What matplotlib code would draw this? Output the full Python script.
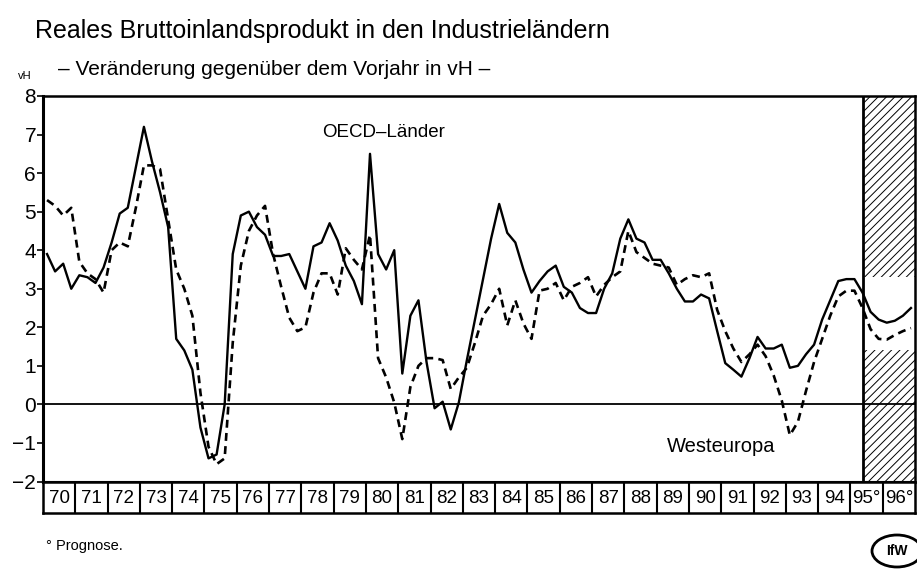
import matplotlib
matplotlib.use("Agg")
import matplotlib.pyplot as plt
import numpy as np
from matplotlib.patches import Rectangle, Ellipse

# ── Data: quarterly year-on-year change in %, 1970Q1 .. 1996Q4 ──────────────
years = list(range(1970, 1997))
forecast_years = [1995, 1996]

oecd = [
    3.9, 3.45, 3.65, 3.0,     # 70
    3.35, 3.3, 3.15, 3.55,    # 71
    4.2, 4.95, 5.1, 6.15,     # 72
    7.2, 6.3, 5.5, 4.6,       # 73
    1.7, 1.4, 0.9, -0.6,      # 74
    -1.4, -1.3, 0.0, 3.9,     # 75
    4.9, 5.0, 4.6, 4.4,       # 76
    3.85, 3.85, 3.9, 3.45,    # 77
    3.0, 4.1, 4.2, 4.7,       # 78
    4.25, 3.6, 3.2, 2.6,      # 79
    6.5, 3.9, 3.5, 4.0,       # 80
    0.8, 2.3, 2.7, 1.1,       # 81
    -0.1, 0.07, -0.65, 0.05,  # 82
    1.15, 2.2, 3.25, 4.3,     # 83
    5.2, 4.45, 4.2, 3.5,      # 84
    2.9, 3.2, 3.45, 3.6,      # 85
    3.05, 2.9, 2.5, 2.37,     # 86
    2.37, 3.0, 3.4, 4.3,      # 87
    4.8, 4.3, 4.2, 3.75,      # 88
    3.75, 3.4, 3.0, 2.67,     # 89
    2.67, 2.85, 2.75, 1.9,    # 90
    1.07, 0.9, 0.72, 1.2,     # 91
    1.75, 1.45, 1.45, 1.55,   # 92
    0.95, 1.0, 1.3, 1.55,     # 93
    2.2, 2.7, 3.2, 3.25,      # 94
    3.25, 2.9, 2.4, 2.2,      # 95
    2.12, 2.17, 2.3, 2.5,     # 96
]

westeuropa = [
    5.3, 5.15, 4.9, 5.1,      # 70
    3.7, 3.4, 3.25, 2.9,      # 71
    4.0, 4.2, 4.1, 5.1,       # 72
    6.2, 6.2, 6.1, 4.8,       # 73
    3.5, 3.0, 2.3, 0.3,       # 74
    -1.1, -1.55, -1.4, 1.6,   # 75
    3.6, 4.5, 4.9, 5.15,      # 76
    3.9, 3.05, 2.25, 1.9,     # 77
    2.0, 2.9, 3.4, 3.4,       # 78
    2.85, 4.05, 3.75, 3.5,    # 79
    4.4, 1.2, 0.7, 0.05,      # 80
    -0.9, 0.45, 1.0, 1.2,     # 81
    1.2, 1.15, 0.4, 0.7,      # 82
    0.95, 1.6, 2.3, 2.6,      # 83
    3.0, 2.05, 2.7, 2.1,      # 84
    1.7, 2.95, 3.0, 3.15,     # 85
    2.7, 3.05, 3.15, 3.3,     # 86
    2.8, 3.1, 3.3, 3.45,      # 87
    4.5, 3.95, 3.8, 3.65,     # 88
    3.6, 3.55, 3.1, 3.25,     # 89
    3.35, 3.3, 3.4, 2.45,     # 90
    1.9, 1.45, 1.1, 1.3,      # 91
    1.55, 1.25, 0.75, 0.1,    # 92
    -0.8, -0.45, 0.35, 1.1,   # 93
    1.7, 2.3, 2.8, 2.95,      # 94
    2.95, 2.5, 1.95, 1.7,     # 95
    1.68, 1.8, 1.9, 1.98,     # 96
]

# forecast shading: hatched except a white band where the lines run
forecast_start = 1995.4
gap_low, gap_high = 1.4, 3.3

# quarter centres
x = np.array([y + (q + 0.5) / 4 for y in years for q in range(4)])

plt.rcParams.update({
    "font.family": ["Liberation Sans", "DejaVu Sans"],
    "hatch.linewidth": 0.7,
})

W, H = 917, 570
fig = plt.figure(figsize=(W / 100, H / 100), dpi=100)

x0, x1 = 43, 915
ytop, ybot, ybox = 96, 481.5, 513
ax = fig.add_axes([x0 / W, 1 - ybot / H, (x1 - x0) / W, (ybot - ytop) / H])
axb = fig.add_axes([x0 / W, 1 - ybox / H, (x1 - x0) / W, (ybox - ybot) / H])

xmin, xmax = years[0], years[-1] + 1
ax.set_xlim(xmin, xmax)
ax.set_ylim(-2, 8)

# ── Forecast hatch ───────────────────────────────────────────────────────────
for lo, hi in [(-2, gap_low), (gap_high, 8)]:
    ax.add_patch(Rectangle((forecast_start, lo), xmax - forecast_start, hi - lo,
                           facecolor="white", edgecolor="black", hatch="////",
                           linewidth=0, zorder=1))
ax.axvline(forecast_start, color="black", linewidth=2.0, zorder=4)

# ── Lines ────────────────────────────────────────────────────────────────────
ax.axhline(0, color="black", linewidth=1.3, zorder=2)
ax.plot(x, oecd, color="black", linewidth=1.7, zorder=3)
ax.plot(x, westeuropa, color="black", linewidth=1.9, linestyle=(0, (3, 2)), zorder=3)

ax.text(1980.55, 7.05, "OECD–Länder", fontsize=13.5, ha="center", va="center")
ax.text(1991.0, -1.1, "Westeuropa", fontsize=14.5, ha="center", va="center")

# ── Axes styling ─────────────────────────────────────────────────────────────
ax.set_xticks([])
ax.set_yticks(range(-2, 9))
ax.tick_params(axis="y", direction="out", length=4, width=1.2, labelsize=15, pad=1)
for side, lw in [("left", 2.2), ("top", 1.8), ("right", 1.8), ("bottom", 1.5)]:
    ax.spines[side].set_linewidth(lw)

# ── Year box row ─────────────────────────────────────────────────────────────
axb.set_xlim(xmin, xmax)
axb.set_ylim(0, 1)
axb.set_xticks([])
axb.set_yticks([])
for side in axb.spines:
    axb.spines[side].set_linewidth(1.8)
for yr in years[1:]:
    axb.axvline(yr, color="black", linewidth=1.5)
for yr in years:
    lab = f"{yr % 100:02d}" + ("°" if yr in forecast_years else "")
    axb.text(yr + 0.5, 0.47, lab, fontsize=13.5, ha="center", va="center")

# ── Titles and notes ─────────────────────────────────────────────────────────
fig.text(35 / W, 1 - 38 / H, "Reales Bruttoinlandsprodukt in den Industrieländern",
         fontsize=18, va="baseline", ha="left")
fig.text(58 / W, 1 - 75 / H, "– Veränderung gegenüber dem Vorjahr in vH –",
         fontsize=15, va="baseline", ha="left")
fig.text(18 / W, 1 - 79 / H, "vH", fontsize=8, va="baseline", ha="left")
fig.text(46 / W, 1 - 550 / H, "° Prognose.", fontsize=10.5, va="baseline", ha="left")

# IfW logo
fig.patches.append(Ellipse((897 / W, 1 - 551 / H), 50 / W, 32 / H,
                           transform=fig.transFigure, facecolor="white",
                           edgecolor="black", linewidth=2))
fig.text(897 / W, 1 - 551 / H, "IfW", fontsize=10, fontweight="bold",
         ha="center", va="center")

fig.savefig("out.png", dpi=100)
